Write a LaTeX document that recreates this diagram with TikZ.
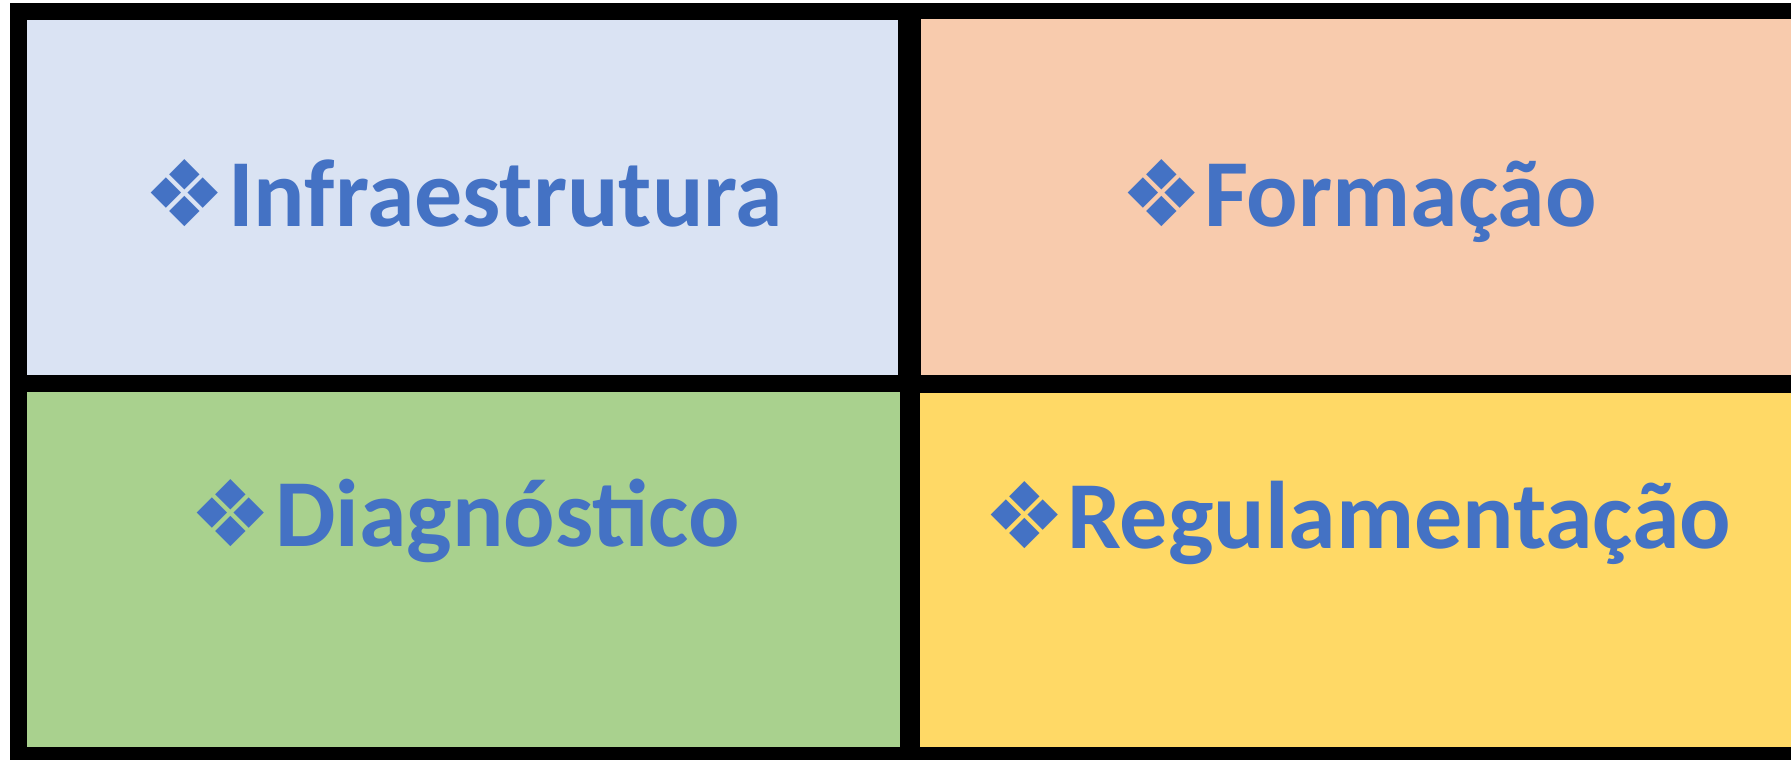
\documentclass[tikz,border=0pt]{standalone}
\usepackage{fontspec}
\setmainfont{Carlito}
\newfontfamily\symfont{DejaVu Sans}
\definecolor{txtblue}{HTML}{4472C4}
\definecolor{cblue}{HTML}{DAE3F3}
\definecolor{cpeach}{HTML}{F8CBAD}
\definecolor{cgreen}{HTML}{A9D18E}
\definecolor{cyellow}{HTML}{FFD966}
\begin{document}
\begin{tikzpicture}[x=0.5pt,y=-0.5pt,
  lbl/.style={anchor=base west,inner sep=0pt,outer sep=0pt,text=txtblue,font=\fontsize{48}{58}\selectfont\bfseries},
  bul/.style={anchor=base west,inner sep=0pt,outer sep=0pt,text=txtblue,font=\fontsize{46}{55}\symfont}]
\fill[white] (0,0) rectangle (1791,760);
\useasboundingbox (0,0) rectangle (1791,760);
\fill[black] (10,3) rectangle (1791,760);
\path[fill=cblue]   (27,20) rectangle (898,375);
\path[fill=cpeach]  (921,19) rectangle (1791,375);
\path[fill=cgreen]  (27,392) rectangle (900,747);
\path[fill=cyellow] (920,393) rectangle (1791,747);
\node[bul] (b1) at (143,226) {❖};
\node[lbl] (t1) at (228,226) {Infraestrutura};
\node[bul] (b2) at (1120,226) {❖};
\node[lbl] (t2) at (1204,226) {Formação};
\node[bul] (b3) at (189,546) {❖};
\node[lbl] (t3) at (275,546) {Diagnóstico};
\node[bul] (b4) at (983,548) {❖};
\node[lbl] (t4) at (1067,548) {Regulamentação};
\end{tikzpicture}
\end{document}
